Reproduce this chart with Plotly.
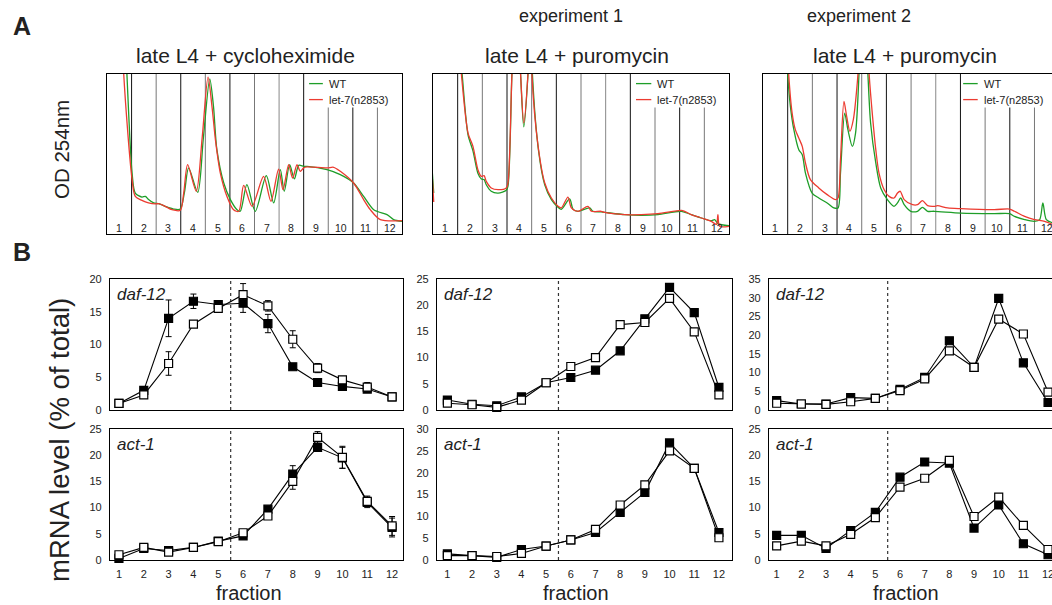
import plotly.graph_objects as go

W, H = 1052, 605
FONT = "Liberation Sans, Arial, Helvetica, sans-serif"
GREEN = "#1e9e28"
RED = "#ec3b30"
INK = "#222222"

fractions = list(range(1, 13))
fraction_labels = [str(f) for f in fractions]
boundaries = [k + 0.5 for k in range(1, 12)]

# ---------------- A: OD 254 nm gradient profiles ----------------
# x = position along the gradient (fraction units), y = absorbance (% of panel full scale; >100 = off scale)
a1_x_wt = [1.15, 1.31, 1.52, 1.65, 1.92, 2.06, 2.19, 2.40, 2.60, 2.87, 3.21, 3.48, 3.65, 3.82, 4.19,
           4.42, 4.68, 4.83, 4.97, 5.25, 5.52, 5.79, 5.92, 6.19, 6.53, 6.98, 7.28, 7.55, 7.71, 7.93,
           8.12, 8.30, 8.50, 8.64, 9.45, 9.99, 10.53, 10.94, 11.35, 11.89, 12.16, 12.5]
a1_y_wt = [160, 100, 38.1, 25.6, 23.1, 23.5, 21.5, 19.4, 19.0, 17.3, 15.6, 15.6, 26, 41.3, 26.0,
           60, 96.9, 80, 52.7, 31.9, 21.5, 15.2, 14.2, 30.8, 14.2, 36.5, 19.4, 40.2, 26.7, 43.3,
           34.4, 42.9, 42.3, 42.3, 40.2, 37.1, 31.9, 23.5, 15.2, 12.1, 9.0, 7.9]
a1_x_mut = [1.05, 1.18, 1.52, 1.65, 1.92, 2.19, 2.47, 2.60, 2.87, 3.14, 3.48, 3.62, 3.78, 4.13, 4.37,
            4.61, 4.77, 4.91, 5.11, 5.38, 5.65, 5.86, 6.06, 6.40, 6.87, 7.17, 7.48, 7.66, 7.89, 8.05,
            8.23, 8.36, 8.50, 8.64, 9.45, 9.72, 9.99, 10.53, 10.94, 11.21, 11.62, 12.5]
a1_y_mut = [160, 100, 34.0, 23.5, 21.0, 19.4, 18.8, 19.0, 17.3, 15.2, 14.8, 25.6, 43.3, 26.7, 60,
            98.1, 79.8, 59.0, 38.1, 23.5, 15.2, 14.2, 30.4, 17.3, 36.0, 20.4, 40.6, 27.7, 43.3, 35.0,
            43.3, 39.2, 41.3, 41.9, 41.3, 41.7, 39.2, 31.9, 21.5, 15.2, 9.0, 8.3]

a2_x_wt = [0.53, 0.57, 1.5, 1.68, 1.92, 2.12, 2.32, 2.46, 2.57, 2.66, 2.86, 3.14, 3.47, 3.54, 3.70,
           3.80, 3.95, 4.05, 4.18, 4.35, 4.42, 4.48, 4.53, 4.78, 5.03, 5.30, 5.57, 5.70, 6.04, 6.18,
           6.38, 6.85, 6.98, 7.32, 8.27, 8.95, 9.62, 10.57, 10.97, 11.38, 11.78, 11.92, 12.05, 12.5]
a2_y_wt = [25.6, 130, 130, 100, 62.0, 52.0, 38.0, 34.4, 34.0, 30.8, 26.7, 25.6, 27.3, 30.0, 100,
           130, 130, 100, 66.9, 100, 130, 130, 100, 52, 30.8, 21.5, 16.7, 15.4, 21.9, 15.4,
           14.2, 16.3, 14.2, 13.8, 12.1, 11.7, 12.1, 14.2, 12.1, 10.0, 8.3, 9.0, 6.5, 5.2]
a2_x_mut = [0.53, 0.62, 1.5, 1.65, 1.92, 2.12, 2.32, 2.46, 2.57, 2.66, 2.86, 3.14, 3.47, 3.54, 3.70,
            3.80, 3.95, 4.05, 4.18, 4.35, 4.42, 4.48, 4.51, 4.76, 5.03, 5.30, 5.57, 5.70, 5.97, 6.11,
            6.38, 6.78, 6.92, 7.32, 7.46, 8.27, 8.95, 9.62, 10.57, 10.70, 10.97, 11.38, 11.78, 11.99, 12.05,
            12.12, 12.5]
a2_y_mut = [20, 130, 130, 100, 63.1, 54.8, 40.2, 36.0, 36.5, 32.9, 28.8, 27.7, 28.8, 31.9, 100,
            130, 130, 100, 69.4, 100, 130, 130, 100, 55, 31.9, 22.5, 17.3, 16.3, 23.1, 16.3,
            14.2, 17.3, 14.2, 14.2, 13.5, 12.1, 12.1, 12.7, 14.8, 14.2, 12.1, 10.0, 7.9, 6.0, 12.1,
            4.8, 4.8]

a3_x_wt = [1.42, 1.50, 1.61, 1.75, 1.95, 2.09, 2.22, 2.49, 2.76, 3.10, 3.37, 3.54, 3.64, 3.81, 3.94,
           4.12, 4.25, 4.39, 4.46, 4.65, 4.75, 4.86, 5.07, 5.27, 5.54, 5.81, 5.95, 6.08, 6.22, 6.49,
           6.76, 6.96, 7.17, 7.44, 8.52, 9.87, 10.49, 10.69, 11.10, 11.50, 11.71, 11.84, 11.98, 12.26]
a3_y_wt = [130, 100, 79.8, 65.2, 52.7, 49.6, 38.1, 25.6, 22.5, 19.4, 16.3, 16.3, 38.1, 75.6, 65.2,
           54.8, 63.1, 100, 130, 130, 100, 69.4, 44.4, 28.8, 21.5, 17.3, 19.4, 22.5, 18.3, 14.2,
           14.2, 16.7, 14.2, 14.2, 13.1, 12.7, 12.7, 11.0, 9.0, 7.9, 9.0, 19.4, 9.0, 6.9]
a3_x_mut = [1.45, 1.54, 1.68, 1.81, 1.95, 2.09, 2.22, 2.42, 2.76, 3.10, 3.44, 3.54, 3.64, 3.78, 3.89,
            4.02, 4.16, 4.32, 4.39, 4.46, 4.70, 4.80, 4.93, 5.07, 5.20, 5.41, 5.61, 5.81, 5.95, 6.06,
            6.22, 6.56, 6.76, 6.96, 7.17, 7.44, 7.57, 7.98, 8.52, 9.87, 10.49, 10.69, 11.10, 11.50, 11.91,
            12.26]
a3_y_mut = [130, 100, 75.6, 65.2, 60.0, 54.8, 44.4, 34.0, 28.8, 24.6, 21.5, 22.5, 46.5, 82.9, 73.5,
            64.2, 71.5, 94.4, 110, 130, 130, 100, 75, 52.7, 38.1, 27.7, 23.5, 22.5, 25.6, 26.7,
            21.5, 18.3, 18.3, 20.8, 17.7, 17.3, 17.7, 16.3, 15.8, 15.2, 15.6, 14.2, 11.0, 9.0, 7.9,
            5.8]

# ---------------- B: mRNA level (% of total) per fraction ----------------
daf12_chx_filled = [1.0, 3.0, 14.0, 16.6, 16.1, 16.3, 13.2, 6.6, 4.2, 3.6, 3.2, 2.0]
daf12_chx_filled_err = [0.1, 0.2, 2.8, 1.1, 0.5, 1.4, 1.4, 0.3, 0.4, 0.3, 0.3, 0.2]
daf12_chx_open = [1.0, 2.3, 7.1, 13.1, 15.5, 17.6, 15.9, 10.8, 6.4, 4.6, 3.5, 2.0]
daf12_chx_open_err = [0.1, 0.2, 1.8, 0.4, 0.4, 1.7, 0.8, 1.3, 0.7, 0.3, 0.7, 0.2]
daf12_exp1_filled = [1.9, 1.1, 0.8, 2.5, 5.2, 6.2, 7.6, 11.3, 17.4, 23.4, 18.6, 4.3]
daf12_exp1_open = [1.3, 1.0, 0.5, 1.9, 5.2, 8.3, 10.0, 16.3, 16.7, 21.3, 14.9, 2.9]
daf12_exp2_filled = [2.5, 1.6, 1.6, 3.3, 3.1, 5.5, 8.7, 18.5, 11.4, 29.8, 12.6, 2.0]
daf12_exp2_open = [1.8, 1.6, 1.5, 2.2, 3.1, 5.2, 8.3, 15.8, 11.4, 24.3, 20.3, 4.8]

act1_chx_filled = [0.3, 2.2, 1.8, 2.4, 3.6, 4.6, 9.7, 16.4, 21.5, 19.5, 11.0, 6.2]
act1_chx_filled_err = [0.1, 0.2, 0.2, 0.2, 0.2, 0.3, 0.4, 1.6, 0.6, 2.0, 1.0, 1.8]
act1_chx_open = [1.0, 2.4, 1.5, 2.4, 3.5, 5.2, 8.4, 15.0, 23.4, 19.6, 11.2, 6.5]
act1_chx_open_err = [0.2, 0.3, 0.3, 0.2, 0.2, 0.3, 0.5, 1.5, 1.1, 2.1, 1.0, 1.8]
act1_exp1_filled = [1.4, 1.0, 0.6, 2.4, 3.2, 4.6, 6.3, 10.9, 15.5, 26.8, 21.0, 6.3]
act1_exp1_open = [1.0, 1.0, 0.8, 1.5, 3.2, 4.6, 7.0, 12.6, 17.2, 25.0, 21.0, 5.1]
act1_exp2_filled = [4.7, 4.7, 2.2, 5.6, 9.1, 15.8, 18.7, 18.5, 6.1, 10.5, 3.1, 1.0]
act1_exp2_open = [2.7, 3.6, 2.7, 4.9, 8.1, 13.9, 15.6, 19.0, 8.3, 12.0, 6.6, 2.0]

panel_titles = ["late L4 + cycloheximide", "late L4 + puromycin", "late L4 + puromycin"]
experiment_labels = ["experiment 1", "experiment 2"]
legend_labels = ["WT", "let-7(n2853)"]
genes = ["daf-12", "act-1"]


def xdom(left, right):
    return [left / W, right / W]


def ydom(top, bottom):
    return [1 - bottom / H, 1 - top / H]


def px(x):
    return x / W


def py(y):
    return 1 - y / H


fig = go.Figure()
layout = {}
shapes = []
annotations = []


def ax_names(n):
    s = "" if n == 1 else str(n)
    return "xaxis" + s, "yaxis" + s, "x" + s, "y" + s


# ---------- Panel A ----------
# (axis number, x domain, x range, right border, wt curve, mutant curve, legend sample x0/x1, legend text x)
A_panels = [
    (1, xdom(107, 402), [0.5, 12.5], True, (a1_x_wt, a1_y_wt), (a1_x_mut, a1_y_mut), (8.72, 9.28, 9.45)),
    (2, xdom(433, 729), [0.5, 12.5], True, (a2_x_wt, a2_y_wt), (a2_x_mut, a2_y_mut), (8.73, 9.35, 9.5)),
    (3, xdom(763, 1052), [0.5, 12.21], False, (a3_x_wt, a3_y_wt), (a3_x_mut, a3_y_mut), (8.61, 9.2, 9.36)),
]
a_ydom = ydom(74, 234)
line_cols = ["#111", "#777", "#111", "#777", "#111", "#777", "#888", "#111", "#777", "#111", "#777"]
for n, xd, xr, mirror_y, wt, mut, (lx0, lx1, ltx) in A_panels:
    xa, ya, xr_id, yr_id = ax_names(n)
    layout[xa] = dict(domain=xd, range=xr, showline=True, mirror=True, linecolor="black", linewidth=1,
                      showgrid=False, zeroline=False, showticklabels=False, ticks="", anchor=yr_id,
                      fixedrange=True, automargin=False)
    layout[ya] = dict(domain=a_ydom, range=[0, 100], showline=True, mirror=mirror_y, linecolor="black",
                      linewidth=1, showgrid=False, zeroline=False, showticklabels=False, ticks="",
                      anchor=xr_id, fixedrange=True, automargin=False)
    for b, c in zip(boundaries, line_cols):
        shapes.append(dict(type="line", xref=xr_id, yref=yr_id + " domain", x0=b, x1=b, y0=0, y1=1,
                           line=dict(color=c, width=1), layer="below"))
    # legend background
    shapes.append(dict(type="rect", xref=xr_id, yref=yr_id + " domain", x0=8.6, x1=xr[1], y0=0.79, y1=1,
                       fillcolor="white", line=dict(width=0), layer="below"))
    for (xs, ys), col, lab, ly in [(wt, GREEN, legend_labels[0], 94), (mut, RED, legend_labels[1], 84)]:
        fig.add_trace(go.Scatter(x=xs, y=ys, mode="lines", line=dict(color=col, width=1.3, shape="spline",
                                                                     smoothing=0.8),
                                 xaxis=xr_id, yaxis=yr_id, hoverinfo="skip", name=lab))
        shapes.append(dict(type="line", xref=xr_id, yref=yr_id, x0=lx0, x1=lx1, y0=ly, y1=ly,
                           line=dict(color=col, width=1.3), layer="above"))
        annotations.append(dict(xref=xr_id, yref=yr_id, x=ltx, y=ly, text=lab, showarrow=False,
                                xanchor="left", yanchor="middle", font=dict(size=11, color=INK)))
    for f, t in zip(fractions, fraction_labels):
        annotations.append(dict(xref=xr_id, yref=yr_id, x=f, y=4.0, text=t, showarrow=False,
                                xanchor="center", yanchor="middle", font=dict(size=10.5, color=INK)))

# ---------- Panel B ----------
B_cols = [
    (xdom(110, 403), [0.64, 12.44], True),
    (xdom(437, 732), [0.58, 12.53], True),
    (xdom(769, 1052), [0.69, 12.16], False),
]
B_rows = [
    (ydom(279, 410), False, genes[0],
     [(daf12_chx_filled, daf12_chx_filled_err, daf12_chx_open, daf12_chx_open_err, 20),
      (daf12_exp1_filled, None, daf12_exp1_open, None, 25),
      (daf12_exp2_filled, None, daf12_exp2_open, None, 35)]),
    (ydom(429, 560), True, genes[1],
     [(act1_chx_filled, act1_chx_filled_err, act1_chx_open, act1_chx_open_err, 25),
      (act1_exp1_filled, None, act1_exp1_open, None, 30),
      (act1_exp2_filled, None, act1_exp2_open, None, 25)]),
]
n = 4
for yd, show_x, gene, series in B_rows:
    for (xd, xr, mirror_y), (filled, ferr, opened, oerr, ymax) in zip(B_cols, series):
        xa, ya, xr_id, yr_id = ax_names(n)
        layout[xa] = dict(domain=xd, range=xr, showline=True, mirror=True, linecolor="black", linewidth=1.3,
                          showgrid=False, zeroline=False, showticklabels=show_x, tickvals=fractions,
                          ticktext=fraction_labels, ticks="", ticklabelstandoff=4,
                          ticklabeloverflow="allow",
                          tickfont=dict(size=11, color=INK), anchor=yr_id, fixedrange=True,
                          automargin=False)
        layout[ya] = dict(domain=yd, range=[0, ymax], dtick=5, showline=True, mirror=mirror_y,
                          linecolor="black", linewidth=1.3, showgrid=False, zeroline=False, ticks="",
                          ticklabelstandoff=5, tickfont=dict(size=11, color=INK), anchor=xr_id,
                          fixedrange=True, automargin=False)
        shapes.append(dict(type="line", xref=xr_id, yref=yr_id + " domain", x0=5.5, x1=5.5, y0=0, y1=1,
                           line=dict(color="#333", width=1.2, dash="dot"), layer="below"))
        for vals, err, fill in [(filled, ferr, "black"), (opened, oerr, "white")]:
            fig.add_trace(go.Scatter(
                x=fractions, y=vals, mode="lines+markers",
                line=dict(color="black", width=1.1),
                marker=dict(symbol="square", size=8, color=fill, line=dict(color="black", width=1.2)),
                error_y=(dict(type="data", array=err, color="black", thickness=1, width=3, visible=True)
                         if err is not None else None),
                xaxis=xr_id, yaxis=yr_id, hoverinfo="skip", cliponaxis=False))
        annotations.append(dict(xref=xr_id + " domain", yref=yr_id + " domain", x=0, y=0.88, xshift=5,
                                text="<i>" + gene + "</i>", showarrow=False, xanchor="left",
                                yanchor="middle", font=dict(size=17, color=INK)))
        n += 1

# ---------- Text ----------
texts = [
    ("A", 22, 26, 25, 0, True),
    ("B", 22, 252, 25, 0, True),
    (experiment_labels[0], 571, 16, 18, 0, False),
    (experiment_labels[1], 859, 16, 18, 0, False),
    (panel_titles[0], 245, 55, 21, 0, False),
    (panel_titles[1], 576.5, 55, 21, 0, False),
    (panel_titles[2], 905, 55, 21, 0, False),
    ("OD 254nm", 61, 150, 20.5, -90, False),
    ("mRNA level (% of total)", 59, 440, 27.5, -90, False),
    ("fraction", 248.5, 593, 20, 0, False),
    ("fraction", 576, 593, 20, 0, False),
    ("fraction", 906, 593, 20, 0, False),
]
for t, x, y, size, ang, bold in texts:
    annotations.append(dict(xref="paper", yref="paper", x=px(x), y=py(y), text=("<b>%s</b>" % t) if bold else t,
                            showarrow=False, xanchor="center", yanchor="middle", textangle=ang,
                            font=dict(size=size, color=INK)))

fig.update_layout(template="none", width=W, height=H, margin=dict(l=0, r=0, t=0, b=0, pad=0),
                  autosize=False, paper_bgcolor="white",
                  plot_bgcolor="white", showlegend=False, font=dict(family=FONT, color=INK),
                  shapes=shapes, annotations=annotations, **layout)
fig.write_html("out.html", config={"displayModeBar": False},
               post_script="document.body.style.margin='0px';document.body.style.overflow='hidden';")
